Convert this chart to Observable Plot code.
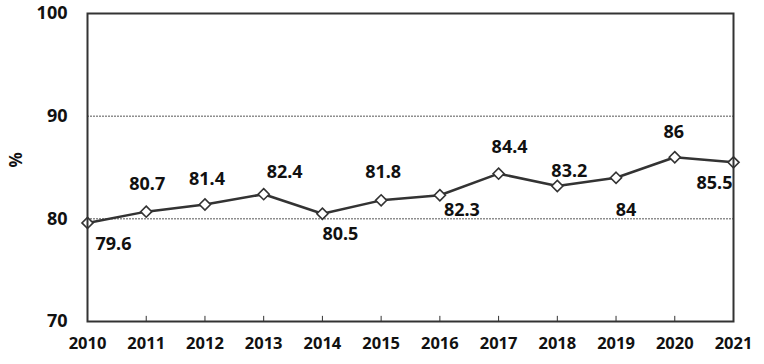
<!DOCTYPE html>
<html>
<head>
<meta charset="utf-8">
<script src="https://cdn.jsdelivr.net/npm/d3@7"></script>
<script src="https://cdn.jsdelivr.net/npm/@observablehq/plot@0.6"></script>
<style>
  html, body { margin: 0; padding: 0; background: #fff; }
  #chart svg { display: block; }
</style>
</head>
<body>
<div id="chart"></div>
<script>
const years = [2010, 2011, 2012, 2013, 2014, 2015, 2016, 2017, 2018, 2019, 2020, 2021];
const values = [79.6, 80.7, 81.4, 82.4, 80.5, 81.8, 82.3, 84.4, 83.2, 84, 86, 85.5];
const yTicks = [70, 80, 90, 100];
const gridValues = [80, 90];
const yLabel = "%";

const data = years.map((year, i) => ({year, value: values[i]}));

// label placement (pixel offsets from each point)
const labelOffsets = [
  [26, 21], [1, -27], [2, -25], [21, -22], [18, 21], [2, -28],
  [22, 15], [11, -26], [12, -15], [10, 32], [-1, -25], [-19, 21]
];

const font = "'Noto Sans', 'DejaVu Sans', sans-serif";

const labelMarks = data.map((d, i) => Plot.text([d], {
  x: "year", y: "value", text: (d) => String(d.value),
  dx: labelOffsets[i][0], dy: labelOffsets[i][1],
  fontSize: 18, fontWeight: "bold", fill: "#111", textAnchor: "middle"
}));

const chart = Plot.plot({
  width: 764,
  height: 364,
  marginLeft: 87,
  marginRight: 31,
  marginTop: 13,
  marginBottom: 43,
  style: {fontFamily: font, background: "#fff"},
  x: {domain: [2010, 2021], ticks: years, tickFormat: "d"},
  y: {domain: [70, 100], ticks: yTicks},
  marks: [
    Plot.ruleY(gridValues, {stroke: "#555", strokeWidth: 1, strokeDasharray: "2,1"}),
    Plot.ruleX(years.slice(1, -1), {x: (d) => d, y1: 70, y2: 70.5, stroke: "#333", strokeWidth: 1}),
    Plot.axisY({ticks: yTicks, tickSize: 0, tickPadding: 20, fontSize: 18, fontWeight: "bold", fill: "#111", label: null}),
    Plot.axisX({ticks: years, tickSize: 0, tickPadding: 16, fontSize: 16.5, fontWeight: "bold", fill: "#111", tickFormat: "d", label: null}),
    Plot.text([yLabel], {frameAnchor: "left", dx: -71, text: (d) => d, rotate: -90, fontSize: 17, fontWeight: "bold", fill: "#111"}),
    Plot.line(data, {x: "year", y: "value", stroke: "#333", strokeWidth: 2.5}),
    Plot.dot(data, {x: "year", y: "value", symbol: "diamond2", r: 5, fill: "#fff", stroke: "#333", strokeWidth: 1.6}),
    ...labelMarks,
    Plot.frame({stroke: "#333", strokeWidth: 2})
  ]
});
document.getElementById("chart").append(chart);
</script>
</body>
</html>
